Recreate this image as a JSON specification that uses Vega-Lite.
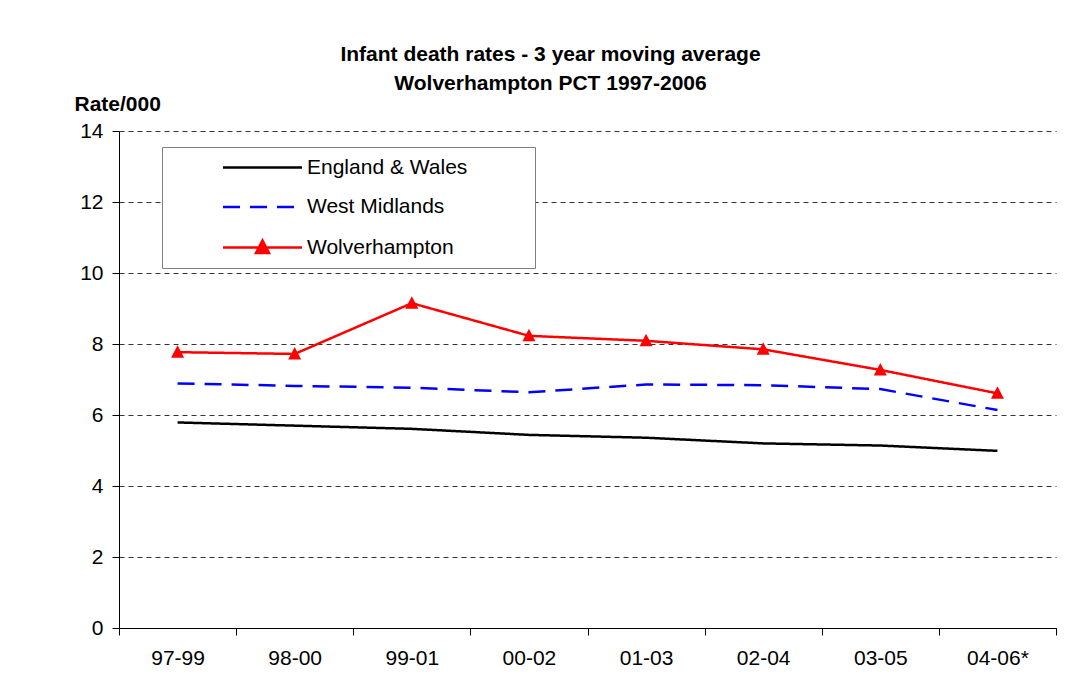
{
  "$schema": "https://vega.github.io/schema/vega-lite/v6.json",
  "autosize": "none",
  "padding": {"left": 119, "top": 131, "right": 21, "bottom": 72},
  "width": 937,
  "height": 497,
  "background": "white",
  "title": {
    "text": ["Infant death rates - 3 year moving average", "Wolverhampton PCT 1997-2006"],
    "fontSize": 21,
    "font": "Liberation Sans",
    "fontWeight": "bold",
    "color": "black",
    "anchor": "middle",
    "frame": "group",
    "dx": -37,
    "offset": -1,
    "lineHeight": 29
  },
  "data": {
    "values": [
      {"period": "97-99", "series": "England & Wales", "rate": 5.79},
      {"period": "98-00", "series": "England & Wales", "rate": 5.70},
      {"period": "99-01", "series": "England & Wales", "rate": 5.61},
      {"period": "00-02", "series": "England & Wales", "rate": 5.44},
      {"period": "01-03", "series": "England & Wales", "rate": 5.36},
      {"period": "02-04", "series": "England & Wales", "rate": 5.20},
      {"period": "03-05", "series": "England & Wales", "rate": 5.14},
      {"period": "04-06*", "series": "England & Wales", "rate": 4.99},
      {"period": "97-99", "series": "West Midlands", "rate": 6.89},
      {"period": "98-00", "series": "West Midlands", "rate": 6.82},
      {"period": "99-01", "series": "West Midlands", "rate": 6.77},
      {"period": "00-02", "series": "West Midlands", "rate": 6.64},
      {"period": "01-03", "series": "West Midlands", "rate": 6.86},
      {"period": "02-04", "series": "West Midlands", "rate": 6.84},
      {"period": "03-05", "series": "West Midlands", "rate": 6.73},
      {"period": "04-06*", "series": "West Midlands", "rate": 6.14},
      {"period": "97-99", "series": "Wolverhampton", "rate": 7.77},
      {"period": "98-00", "series": "Wolverhampton", "rate": 7.72},
      {"period": "99-01", "series": "Wolverhampton", "rate": 9.15},
      {"period": "00-02", "series": "Wolverhampton", "rate": 8.23},
      {"period": "01-03", "series": "Wolverhampton", "rate": 8.09},
      {"period": "02-04", "series": "Wolverhampton", "rate": 7.85},
      {"period": "03-05", "series": "Wolverhampton", "rate": 7.27},
      {"period": "04-06*", "series": "Wolverhampton", "rate": 6.61}
    ]
  },
  "encoding": {
    "x": {
      "field": "period",
      "type": "ordinal",
      "sort": ["97-99", "98-00", "99-01", "00-02", "01-03", "02-04", "03-05", "04-06*"],
      "bandPosition": 0.5,
      "scale": {"type": "band", "paddingInner": 0, "paddingOuter": 0},
      "axis": {
        "title": null,
        "labelAngle": 0,
        "tickBand": "extent",
        "tickSize": 7,
        "tickColor": "black",
        "domainColor": "black",
        "labelPadding": 12,
        "labelFontSize": 21,
        "labelFont": "Liberation Sans",
        "labelColor": "black",
        "grid": false
      }
    },
    "y": {
      "field": "rate",
      "type": "quantitative",
      "scale": {"domain": [0, 14], "nice": false},
      "axis": {
        "title": "Rate/000",
        "titleAngle": 0,
        "titleX": -45,
        "titleY": -27,
        "titleAlign": "left",
        "titleBaseline": "middle",
        "titleFontSize": 21,
        "titleFont": "Liberation Sans",
        "titleFontWeight": "bold",
        "titleColor": "black",
        "values": [0, 2, 4, 6, 8, 10, 12, 14],
        "tickSize": 7,
        "tickColor": "black",
        "domainColor": "black",
        "labelPadding": 9,
        "labelFontSize": 21,
        "labelFont": "Liberation Sans",
        "labelColor": "black",
        "grid": true,
        "gridDash": [5, 4],
        "gridColor": "#333333",
        "gridWidth": 1
      }
    }
  },
  "layer": [
    {
      "mark": {"type": "line", "strokeWidth": 2.5},
      "encoding": {
        "color": {
          "field": "series",
          "type": "nominal",
          "scale": {"domain": ["England & Wales", "West Midlands", "Wolverhampton"], "range": ["#000000", "#0000ff", "#ff0000"]},
          "legend": {
            "title": " ",
            "titleOrient": "right",
            "titlePadding": 58,
            "titleFontSize": 10,
            "orient": "none",
            "legendX": 43,
            "legendY": 16,
            "padding": 10,
            "strokeColor": "#808080",
            "fillColor": "white",
            "symbolSize": 100,
            "symbolOffset": 80,
            "labelOffset": 34,
            "rowPadding": 17.5,
            "labelFontSize": 21,
            "labelFont": "Liberation Sans",
            "labelColor": "black",
            "labelLimit": 400,
            "encode": {
              "symbols": {
                "update": {
                  "fill": {"scale": "color", "field": "value"},
                  "stroke": {"scale": "color", "field": "value"},
                  "strokeDash": {"scale": "strokeDash", "field": "value"},
                  "strokeWidth": {"value": 2.5},
                  "opacity": {"value": 1}
                }
              }
            }
          }
        },
        "strokeDash": {
          "field": "series",
          "type": "nominal",
          "scale": {"domain": ["England & Wales", "West Midlands", "Wolverhampton"], "range": [[1, 0], [17, 10], [1, 0]]}
        }
      }
    },
    {
      "transform": [{"filter": "datum.series === 'Wolverhampton'"}],
      "mark": {"type": "point", "filled": true, "opacity": 1, "size": 100, "color": "#ff0000"},
      "encoding": {
        "shape": {
          "field": "series",
          "type": "nominal",
          "scale": {
            "domain": ["England & Wales", "West Midlands", "Wolverhampton"],
            "range": ["M-7.9,0H7.9", "M-7.9,0H7.9", "M-7.9,0H7.9M-1.3,1.1L0,-1.4L1.3,1.1Z"]
          }
        }
      }
    }
  ],
  "config": {
    "view": {"stroke": null},
    "axis": {"domainWidth": 1, "tickWidth": 1}
  }
}
